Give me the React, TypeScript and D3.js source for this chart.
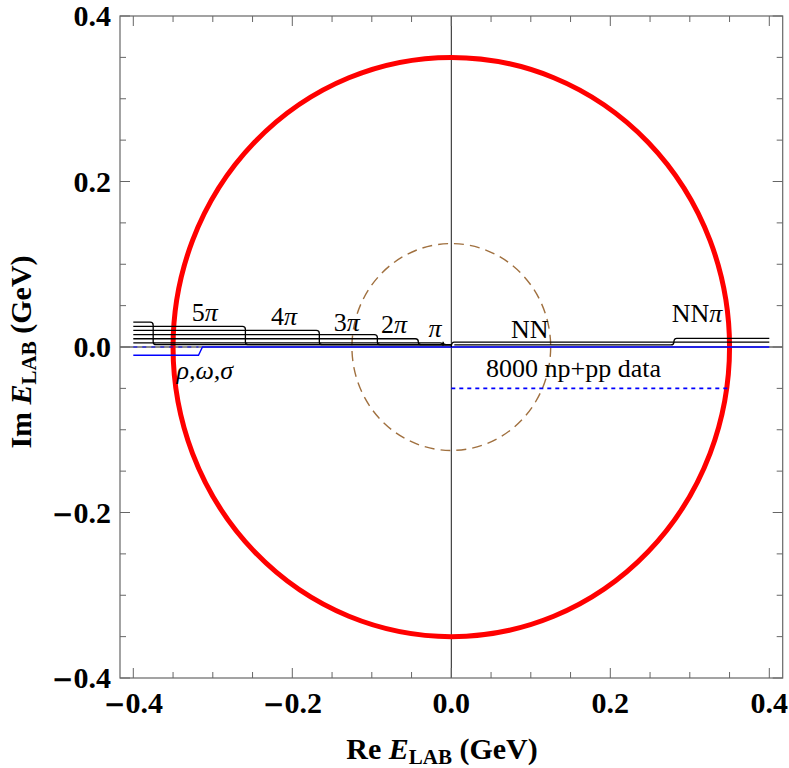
import React from 'react';
import * as d3 from 'd3';

const W = 789;
const H = 768;

// axis ticks
const majorTicks = [-0.4, -0.2, 0.0, 0.2, 0.4];
const minorTicks = [-0.35, -0.3, -0.25, -0.15, -0.1, -0.05, 0.05, 0.1, 0.15, 0.25, 0.3, 0.35];
const tickLabels = ['0.4', '0.2', '0.0', '0.2', '0.4'];
const tickNegative = [true, true, false, false, false];

// circles (radius in GeV)
const convergenceRadius = 0.35;
const innerRadius = 0.125;

// left-hand cuts (n pion exchange): threshold and drawing offset
const leftCutThresholds = [-0.0104, -0.0415, -0.093, -0.166, -0.259, -0.375];
const leftCutOffsets = [0.005, 0.01, 0.015, 0.02, 0.025, 0.03];
const leftCutBase = 0.0028;

// right-hand cuts
const nnStart = 0.0;
const nnOffset = 0.006;
const nnPiThreshold = 0.28;
const nnPiOffsets = [0.0025, 0.0105];

// rho, omega, sigma cut
const rhoThreshold = -0.318;
const rhoOffset = -0.01;

// data range line
const dataLineY = -0.05;
const dataLineX = [0.0, 0.35];

// labels: [plain prefix, italic greek]
const cutLabelText = ['5', '4', '3', '2', '', 'NN', 'NN', '', '8000 np+pp data'];
const cutLabelGreek = ['\u03c0', '\u03c0', '\u03c0', '\u03c0', '\u03c0', '', '\u03c0', '\u03c1,\u03c9,\u03c3', ''];
const cutLabelX = [-0.31, -0.2105, -0.1315, -0.072, -0.0205, 0.0988, 0.309, -0.31, 0.1538];
const cutLabelY = [0.0312, 0.0266, 0.0197, 0.0166, 0.0117, 0.0105, 0.0306, -0.0387, -0.0363];

const x = d3.scaleLinear().domain([-0.4, 0.4]).range([133.3, 769.3]);
const y = d3.scaleLinear().domain([-0.4, 0.4]).range([678, 16]);

const frame = { left: 120, right: 782.7, top: 16, bottom: 678 };
const r = 3; // corner radius of cut steps in px

function leftCutPath(t: number, off: number) {
  const p = d3.path();
  const yt = y(off);
  const yb = y(leftCutBase);
  p.moveTo(x(-0.4), yt);
  p.lineTo(x(t) - r, yt);
  p.quadraticCurveTo(x(t), yt, x(t), yt + r);
  p.lineTo(x(t), yb - r);
  p.quadraticCurveTo(x(t), yb, x(t) + r, yb);
  p.lineTo(x(0), yb);
  return p.toString();
}

function nnPath() {
  const p = d3.path();
  const y0 = y(0);
  const y1 = y(nnOffset);
  p.moveTo(x(nnStart), y0);
  p.quadraticCurveTo(x(nnStart), y1, x(nnStart) + r, y1);
  p.lineTo(x(0.4), y1);
  return p.toString();
}

function nnPiPath() {
  const p = d3.path();
  const ya = y(nnPiOffsets[0]);
  const yb = y(nnPiOffsets[1]);
  p.moveTo(x(nnStart) + r, ya);
  p.lineTo(x(nnPiThreshold) - r, ya);
  p.quadraticCurveTo(x(nnPiThreshold), ya, x(nnPiThreshold), ya - r);
  p.quadraticCurveTo(x(nnPiThreshold), yb, x(nnPiThreshold) + r, yb);
  p.lineTo(x(0.4), yb);
  return p.toString();
}

function rhoPath() {
  const p = d3.path();
  p.moveTo(x(-0.4), y(rhoOffset));
  p.lineTo(x(rhoThreshold), y(rhoOffset));
  p.lineTo(x(rhoThreshold + 0.005), y(0));
  p.lineTo(x(0.4), y(0));
  return p.toString();
}

const serif = '"Liberation Serif", "DejaVu Serif", serif';

function TickText({ i }: { i: number }) {
  return (
    <>
      {tickNegative[i] && <tspan fontFamily='"DejaVu Sans"' fontWeight="bold" fontSize={26}>{'\u2212'}</tspan>}
      {tickLabels[i]}
    </>
  );
}

export default function App() {
  const frameColor = '#666';
  return (
    <svg width={W} height={H} style={{ position: 'absolute', left: 0, top: 0, background: '#fff' }} fontFamily={serif}>
      {/* axes through origin */}
      <line x1={frame.left} x2={frame.right} y1={y(0)} y2={y(0)} stroke="#000" strokeWidth={0.9} />
      <line x1={x(0)} x2={x(0)} y1={frame.top} y2={frame.bottom} stroke="#000" strokeWidth={0.9} />

      {/* circles */}
      <ellipse
        cx={x(0)} cy={y(0)}
        rx={x(convergenceRadius) - x(0)} ry={y(0) - y(convergenceRadius)}
        fill="none" stroke="#ff0000" strokeWidth={5}
      />
      <ellipse
        cx={x(0)} cy={y(0)}
        rx={x(innerRadius) - x(0)} ry={y(0) - y(innerRadius)}
        fill="none" stroke="#a0703f" strokeWidth={1.4} strokeDasharray="10,6"
      />

      {/* blue lines */}
      <path d={rhoPath()} fill="none" stroke="#0000ff" strokeWidth={1.4} />
      <line x1={x(-0.4)} x2={x(rhoThreshold)} y1={y(0)} y2={y(0)} stroke="#0000ff" strokeWidth={1.2} strokeDasharray="4,5" />
      <line
        x1={x(dataLineX[0])} x2={x(dataLineX[1])} y1={y(dataLineY)} y2={y(dataLineY)}
        stroke="#0000ff" strokeWidth={1.8} strokeDasharray="4,4"
      />

      {/* cuts */}
      {leftCutThresholds.map((t, i) => (
        <path key={i} d={leftCutPath(t, leftCutOffsets[i])} fill="none" stroke="#000" strokeWidth={1.3} />
      ))}
      <path d={nnPath()} fill="none" stroke="#000" strokeWidth={1.3} />
      <path d={nnPiPath()} fill="none" stroke="#000" strokeWidth={1.3} />

      {/* labels */}
      {cutLabelText.map((s, i) => (
        <text key={i} x={x(cutLabelX[i])} y={y(cutLabelY[i])} textAnchor="middle" fontSize={26}>
          {s}
          {cutLabelGreek[i] && <tspan fontStyle="italic">{cutLabelGreek[i]}</tspan>}
        </text>
      ))}

      {/* frame */}
      <rect
        x={frame.left} y={frame.top} width={frame.right - frame.left} height={frame.bottom - frame.top}
        fill="none" stroke={frameColor} strokeWidth={1.2}
      />
      {majorTicks.map((t, i) => (
        <g key={'M' + i} stroke={frameColor} strokeWidth={1}>
          <line x1={x(t)} x2={x(t)} y1={frame.bottom} y2={frame.bottom - 10} />
          <line x1={x(t)} x2={x(t)} y1={frame.top} y2={frame.top + 10} />
          <line x1={frame.left} x2={frame.left + 10} y1={y(t)} y2={y(t)} />
          <line x1={frame.right} x2={frame.right - 10} y1={y(t)} y2={y(t)} />
        </g>
      ))}
      {minorTicks.map((t, i) => (
        <g key={'m' + i} stroke={frameColor} strokeWidth={1}>
          <line x1={x(t)} x2={x(t)} y1={frame.bottom} y2={frame.bottom - 6} />
          <line x1={x(t)} x2={x(t)} y1={frame.top} y2={frame.top + 6} />
          <line x1={frame.left} x2={frame.left + 6} y1={y(t)} y2={y(t)} />
          <line x1={frame.right} x2={frame.right - 6} y1={y(t)} y2={y(t)} />
        </g>
      ))}

      {/* tick labels */}
      {majorTicks.map((t, i) => (
        <text key={'xl' + i} x={x(t)} y={713} textAnchor="middle" fontSize={30} fontWeight="bold">
          <TickText i={i} />
        </text>
      ))}
      {majorTicks.map((t, i) => (
        <text key={'yl' + i} x={111} y={y(t) + 10} textAnchor="end" fontSize={30} fontWeight="bold">
          <TickText i={i} />
        </text>
      ))}

      {/* axis titles */}
      <text x={442} y={759} textAnchor="middle" fontSize={30} fontWeight="bold">
        Re <tspan fontStyle="italic">E</tspan>
        <tspan fontSize={21} dy={5}>LAB</tspan>
        <tspan dy={-5}> (GeV)</tspan>
      </text>
      <text transform="translate(31,352) rotate(-90)" textAnchor="middle" fontSize={30} fontWeight="bold">
        Im <tspan fontStyle="italic">E</tspan>
        <tspan fontSize={21} dy={5}>LAB</tspan>
        <tspan dy={-5}> (GeV)</tspan>
      </text>
    </svg>
  );
}
